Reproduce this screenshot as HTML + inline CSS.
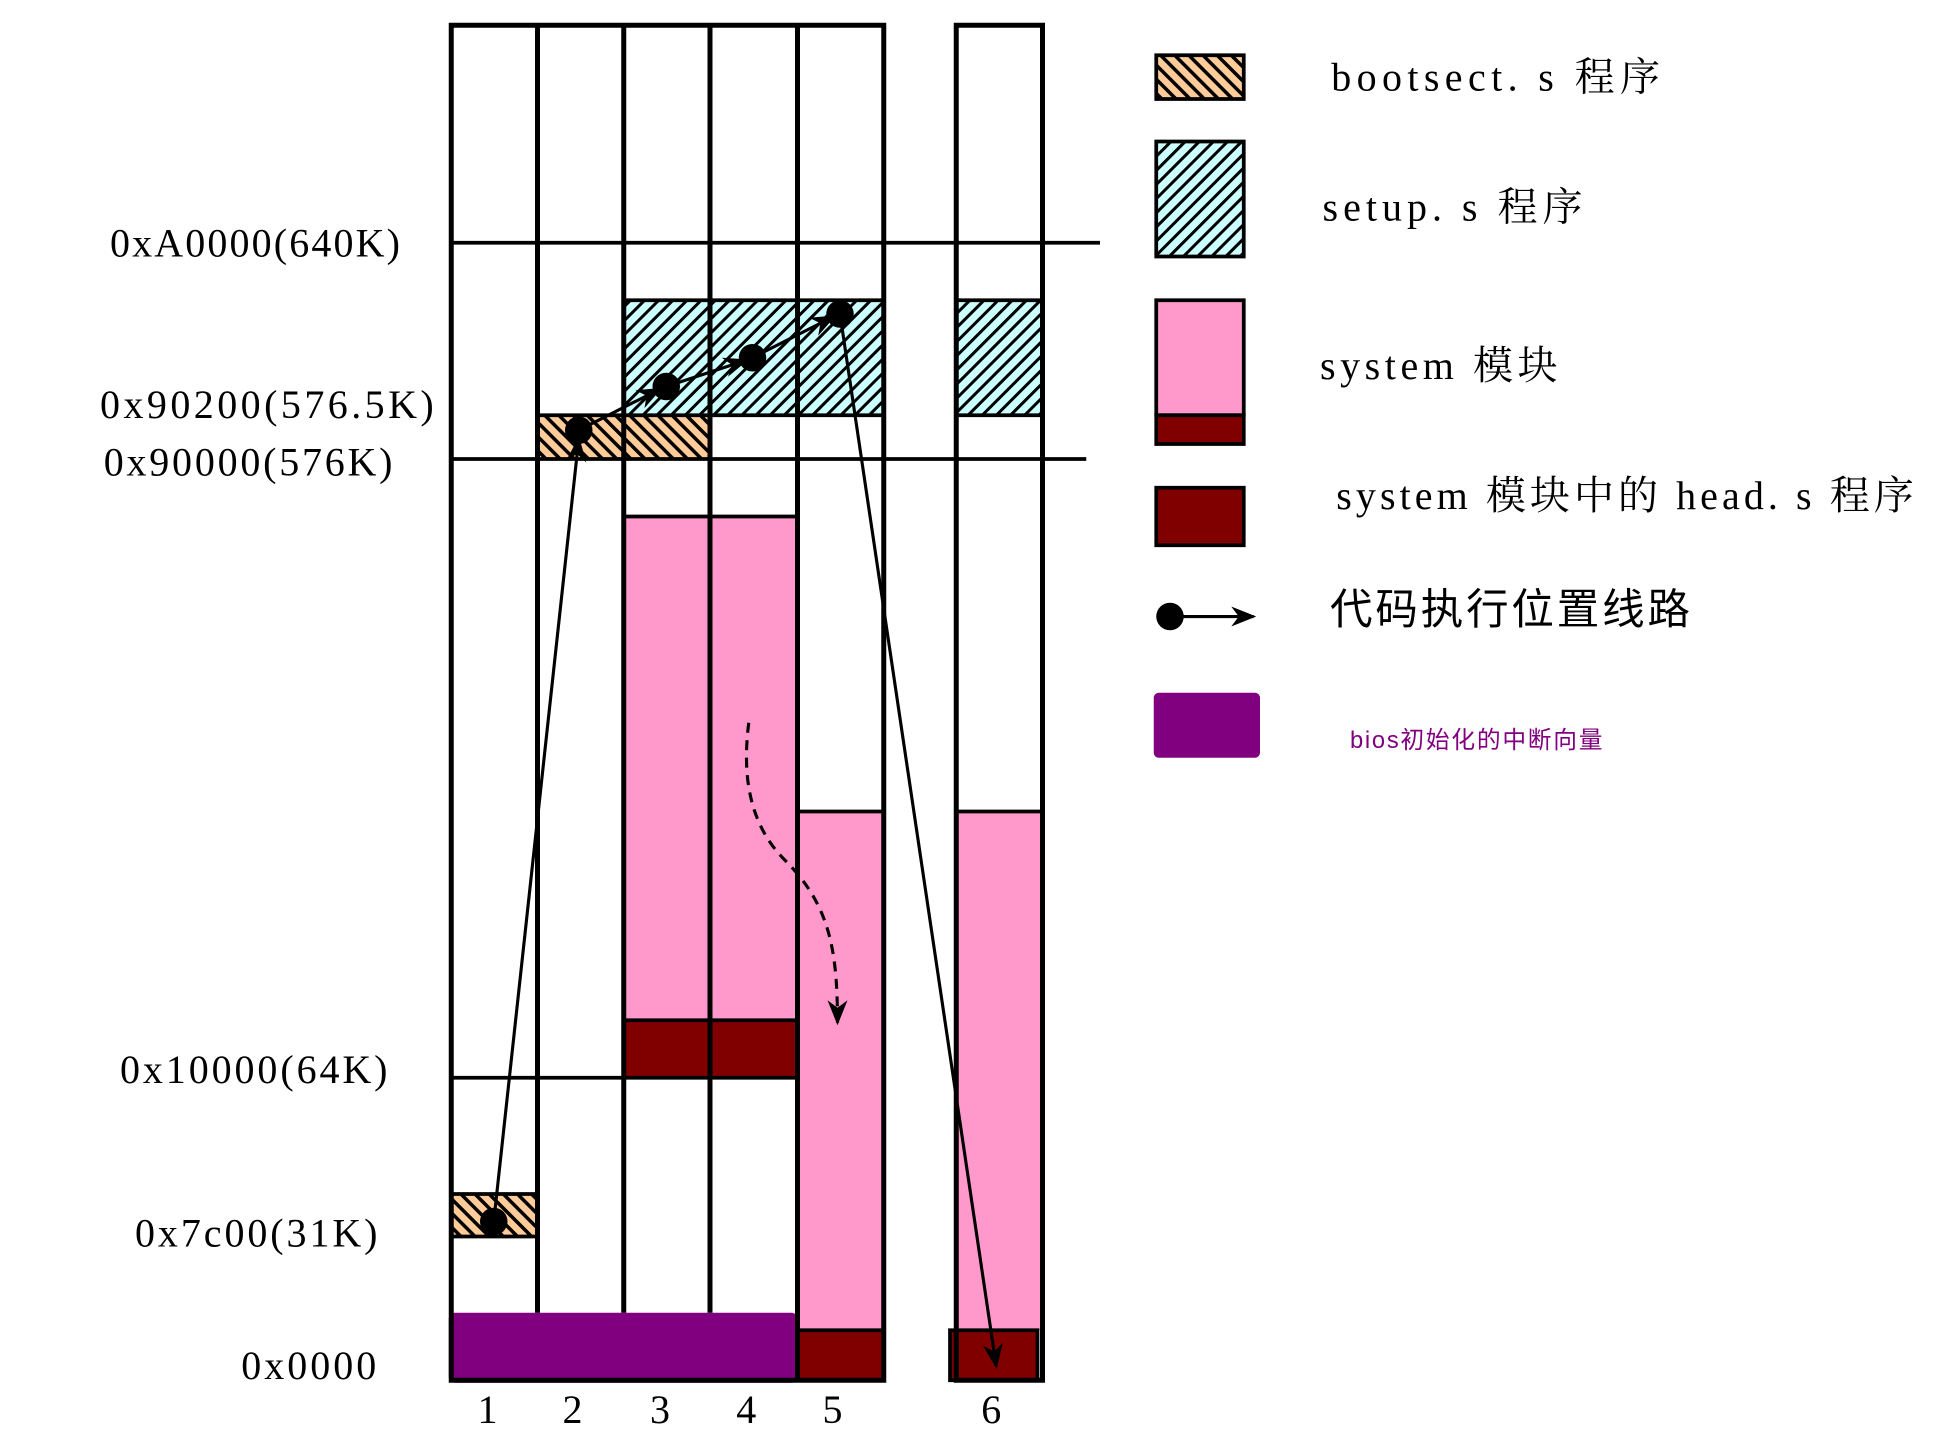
<!DOCTYPE html>
<html><head><meta charset="utf-8"><style>html,body{margin:0;padding:0;background:#fff;}svg{display:block}</style></head>
<body>
<svg width="1950" height="1438" viewBox="0 0 1560 1150" xmlns="http://www.w3.org/2000/svg">
<defs>
<pattern id="po" width="8" height="8" patternUnits="userSpaceOnUse" patternTransform="rotate(-45)">
<rect width="8" height="8" fill="#ffcc99"/><rect width="2.8" height="8" fill="#000"/></pattern>
<pattern id="pc" width="8" height="8" patternUnits="userSpaceOnUse" patternTransform="rotate(45)">
<rect width="8" height="8" fill="#ccffff"/><rect width="2.4" height="8" fill="#000"/></pattern>
<marker id="ah" viewBox="0 0 20 20" refX="18" refY="10" markerWidth="20" markerHeight="20" markerUnits="userSpaceOnUse" orient="auto">
<path d="M0,2 L20,10 L0,18 L6,10 Z" fill="#000"/></marker>
</defs>
<g transform="translate(-2,-2)">
<g font-family="'Liberation Serif','Noto Serif CJK SC',serif" font-size="32" fill="#000">
<text x="90" y="207" textLength="232">0xA0000(640K)</text>
<text x="82" y="336" textLength="267">0x90200(576.5K)</text>
<text x="85" y="382" textLength="231">0x90000(576K)</text>
<text x="98" y="868" textLength="214">0x10000(64K)</text>
<text x="110" y="999" textLength="194">0x7c00(31K)</text>
<text x="195" y="1105" textLength="108">0x0000</text>
<g text-anchor="middle"><text x="392" y="1140">1</text><text x="460" y="1140">2</text><text x="530" y="1140">3</text><text x="599" y="1140">4</text><text x="668" y="1140">5</text><text x="795" y="1140">6</text></g>
</g>
<rect x="501" y="242" width="208" height="92" fill="url(#pc)"/>
<rect x="767" y="242" width="69" height="92" fill="url(#pc)"/>
<rect x="432" y="334" width="138" height="35" fill="url(#po)"/>
<rect x="363" y="957" width="69" height="34" fill="url(#po)"/>
<rect x="501" y="415" width="138" height="403" fill="#ff99cc"/>
<rect x="501" y="818" width="138" height="46" fill="#800000"/>
<rect x="640" y="651" width="69" height="415" fill="#ff99cc"/>
<rect x="640" y="1066" width="69" height="40" fill="#800000"/>
<rect x="767" y="651" width="69" height="415" fill="#ff99cc"/>
<g stroke="#000" stroke-width="3" fill="none">
<line x1="501" y1="242" x2="709" y2="242"/><line x1="501" y1="334" x2="709" y2="334"/>
<line x1="767" y1="242" x2="836" y2="242"/><line x1="767" y1="334" x2="836" y2="334"/>
<line x1="432" y1="334" x2="501" y2="334"/>
<line x1="363" y1="957" x2="432" y2="957"/><line x1="363" y1="991" x2="432" y2="991"/>
<line x1="501" y1="415" x2="640" y2="415"/><line x1="501" y1="818" x2="640" y2="818"/>
<line x1="640" y1="651" x2="709" y2="651"/><line x1="767" y1="651" x2="836" y2="651"/>
<line x1="640" y1="1066" x2="709" y2="1066"/>
<line x1="363" y1="196" x2="882" y2="196"/>
<line x1="363" y1="369" x2="871" y2="369"/>
<line x1="363" y1="864" x2="640" y2="864"/>
</g>
<rect x="762" y="1066" width="70" height="40" fill="#800000" stroke="#000" stroke-width="3"/>
<rect x="361" y="1052" width="279" height="56" rx="5" fill="#800080"/>
<g stroke="#000" stroke-width="4" fill="none">
<rect x="363" y="22" width="346" height="1084"/>
<line x1="432" y1="22" x2="432" y2="1052"/><line x1="501" y1="22" x2="501" y2="1052"/>
<line x1="570" y1="22" x2="570" y2="1052"/><line x1="640" y1="22" x2="640" y2="1106"/>
<rect x="767" y="22" width="69" height="1084"/>
</g>
<g stroke="#000" stroke-width="2.5" fill="none">
<line x1="397" y1="979" x2="465" y2="353" marker-end="url(#ah)"/>
<line x1="465" y1="346" x2="530" y2="313" marker-end="url(#ah)"/>
<line x1="535" y1="311" x2="599" y2="290" marker-end="url(#ah)"/>
<line x1="604" y1="288" x2="669" y2="255" marker-end="url(#ah)"/>
<line x1="674" y1="253" x2="799" y2="1095" marker-end="url(#ah)"/>
<path d="M601,580 C596,620 600,660 630,690 C665,725 672,760 672,820" stroke-dasharray="8,6" marker-end="url(#ah)"/>
</g>
<g fill="#000"><circle cx="397" cy="979" r="11"/><circle cx="465" cy="346" r="11"/><circle cx="535" cy="311" r="11"/><circle cx="604" cy="288" r="11"/><circle cx="674" cy="253" r="11"/></g>
<rect x="927" y="46" width="70" height="35" fill="url(#po)" stroke="#000" stroke-width="3"/>
<rect x="927" y="115" width="70" height="92" fill="url(#pc)" stroke="#000" stroke-width="3"/>
<rect x="927" y="242" width="70" height="92" fill="#ff99cc" stroke="#000" stroke-width="3"/>
<rect x="927" y="334" width="70" height="23" fill="#800000" stroke="#000" stroke-width="3"/>
<rect x="927" y="392" width="70" height="46" fill="#800000" stroke="#000" stroke-width="3"/>
<line x1="938" y1="495" x2="1005" y2="495" stroke="#000" stroke-width="2.5" marker-end="url(#ah)"/>
<circle cx="938" cy="495" r="11"/>
<rect x="925" y="556" width="85" height="52" rx="4" fill="#800080"/>
<g font-family="'Liberation Serif','Noto Serif CJK SC',serif" font-size="32" fill="#000">
<text x="1067" y="74" textLength="263">bootsect. s 程序</text>
<text x="1060" y="178" textLength="208">setup. s 程序</text>
<text x="1058" y="305" textLength="190">system 模块</text>
<text x="1071" y="409" textLength="462">system 模块中的 head. s 程序</text>
</g>
<text x="1066" y="501" font-family="'Liberation Sans','Noto Sans CJK SC',sans-serif" font-size="34" textLength="288">代码执行位置线路</text>
<text x="1082" y="600" font-family="'Liberation Sans','Noto Sans CJK SC',sans-serif" font-size="19" fill="#800080" textLength="202">bios初始化的中断向量</text>
</g>
</svg>
</body></html>
